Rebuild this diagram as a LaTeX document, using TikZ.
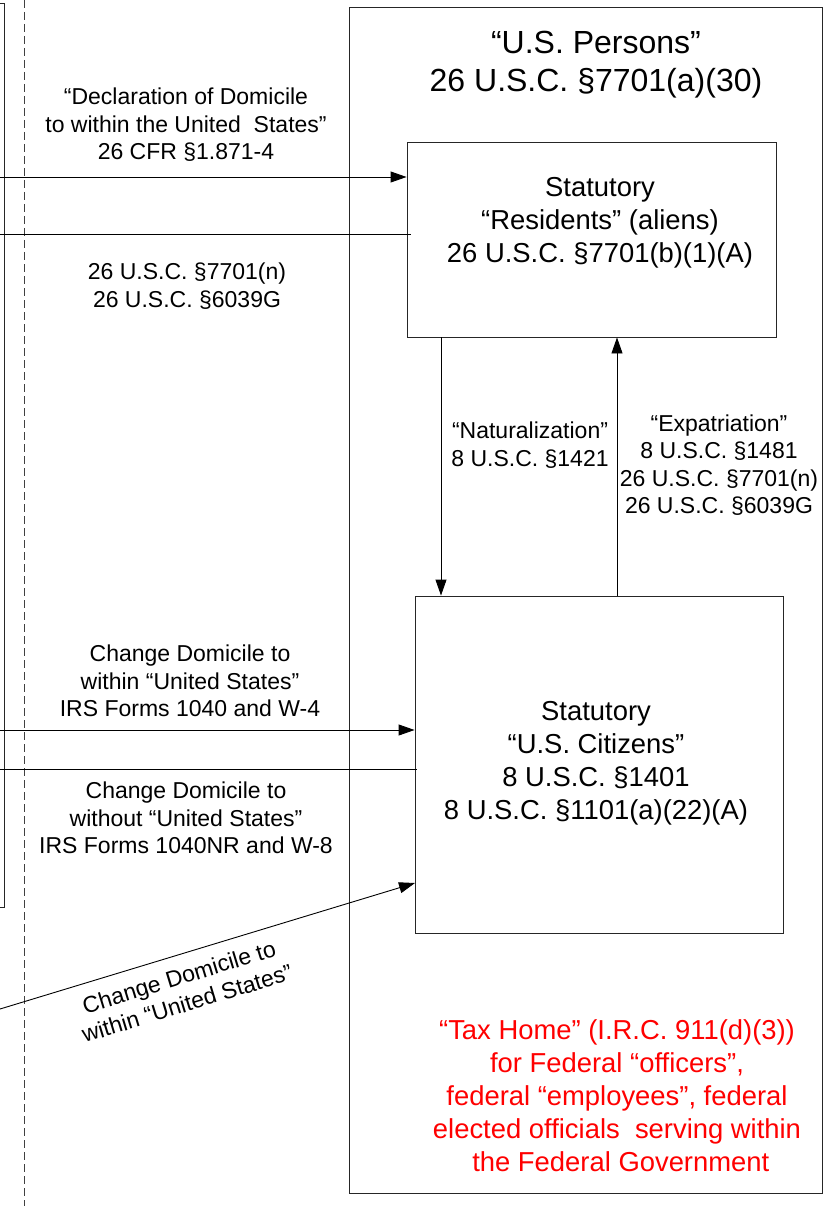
\documentclass[tikz,border=0pt]{standalone}
\usepackage{fontspec}
\setmainfont{Liberation Sans}
\usetikzlibrary{arrows.meta}
\tikzset{
  boxline/.style={draw=black!85, line width=0.9pt, fill=none, inner sep=0pt},
  conn/.style={draw=black, line width=0.9pt},
  arr/.style={conn, -{Triangle[length=16pt,width=11pt]}},
  lbl/.style={align=center, inner sep=0pt, font=\fontsize{23}{27.5}\selectfont},
  boxtxt/.style={align=center, inner sep=0pt, font=\fontsize{27.4}{33}\selectfont},
  titletxt/.style={align=center, inner sep=0pt, font=\fontsize{32}{38}\selectfont},
}
\begin{document}
\begin{tikzpicture}[x=1pt,y=-1pt]
\useasboundingbox (0,0) rectangle (828,1206);
\fill[white] (0,0) rectangle (828,1206);
% left box (extends off the left edge)
\coordinate (lbt) at (0,3);
\coordinate (lbtr) at (4,3);
\coordinate (lbbr) at (4,907);
\coordinate (lbb) at (0,907);
\draw[draw=black!85, line width=0.9pt] (lbt) -- (lbtr) -- (lbbr) -- (lbb);
% dashed border
\coordinate (dt) at (24,0);
\coordinate (db) at (24,1206);
\draw[draw=black!75, line width=0.8pt, dash pattern=on 8pt off 4pt] (dt) -- (db);
% outer box
\node[boxline, minimum width=473pt, minimum height=1186pt] (persons) at (585.5,600) {};
\node[titletxt] (ptitle) at (596,65) {“U.S. Persons”\\26 U.S.C. §7701(a)(30)};
% residents box
\node[boxline, minimum width=369pt, minimum height=195pt] (res) at (591.5,239.5) {};
\node[boxtxt] (restxt) at (600,223) {Statutory\\“Residents” (aliens)\\26 U.S.C. §7701(b)(1)(A)};
% citizens box
\node[boxline, minimum width=368pt, minimum height=337pt] (cit) at (599,764.5) {};
\node[boxtxt] (cittxt) at (596,763) {Statutory\\“U.S. Citizens”\\8 U.S.C. §1401\\8 U.S.C. §1101(a)(22)(A)};
% red text
\node[boxtxt, text=red] (taxhome) at (617,1096) {“Tax Home” (I.R.C. 911(d)(3))\\for Federal “officers”,\\federal “employees”, federal\\elected officials\ \ serving within\\\ the Federal Government};
% connectors to residents
\coordinate (a1) at (0,177);
\draw[arr] (a1) -- (a1 -| res.west);
\coordinate (a2) at (0,234);
\coordinate (a2e) at (411,234);
\draw[conn] (a2) -- (a2e);
\node[lbl] (decl) at (186,125) {“Declaration of Domicile\\to within the United\ \ States”\\26 CFR §1.871-4};
\node[lbl] (expat1) at (187,286) {26 U.S.C. §7701(n)\\26 U.S.C. §6039G};
% vertical connectors
\coordinate (nx) at (441,0);
\coordinate (ex) at (617,0);
\draw[arr] (res.south -| nx) -- (cit.north -| nx);
\draw[arr] (cit.north -| ex) -- (res.south -| ex);
\node[lbl] (nat) at (530,445) {“Naturalization”\\8 U.S.C. §1421};
\node[lbl] (exp) at (719,465) {“Expatriation”\\8 U.S.C. §1481\\26 U.S.C. §7701(n)\\26 U.S.C. §6039G};
% connectors to citizens
\coordinate (c1) at (0,730);
\draw[arr] (c1) -- (c1 -| cit.west);
\coordinate (c2) at (0,769);
\coordinate (c2e) at (417,769);
\draw[conn] (c2) -- (c2e);
\node[lbl] (cd1) at (190,681) {Change Domicile to\\within “United States”\\IRS Forms 1040 and W-4};
\node[lbl] (cd2) at (186,818) {Change Domicile to\\without “United States”\\IRS Forms 1040NR and W-8};
% diagonal
\coordinate (dg1) at (0,1009);
\coordinate (dg2) at (415,883);
\draw[arr] (dg1) -- (dg2);
\node[lbl, rotate=17] (cd3) at (183,990) {Change Domicile to\\within “United States”};
\end{tikzpicture}
\end{document}
